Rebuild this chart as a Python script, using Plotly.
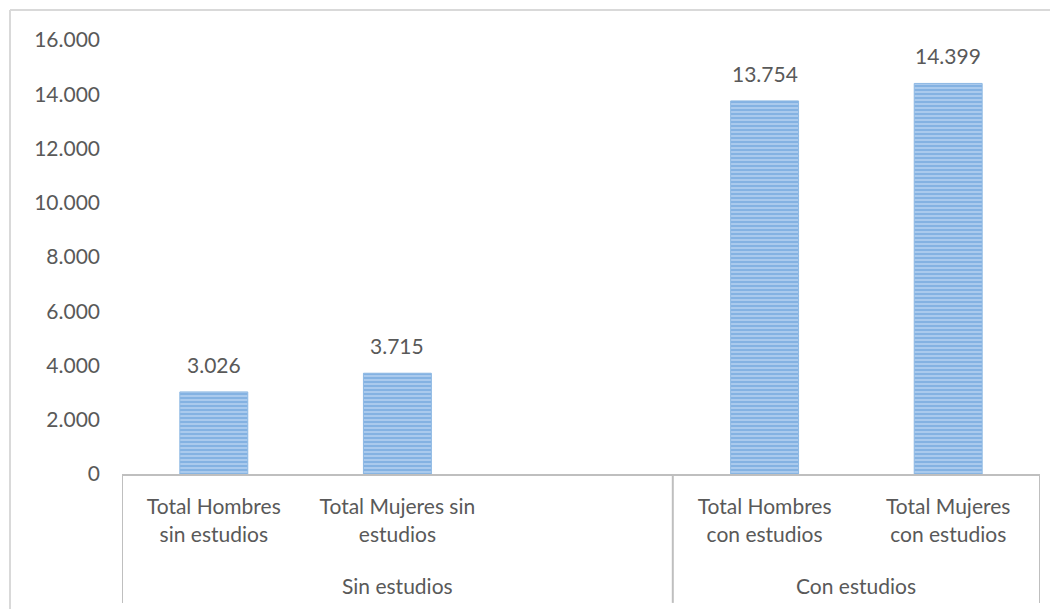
import plotly.graph_objs as go

categories = ['Total Hombres<br>sin estudios', 'Total Mujeres sin<br>estudios', '',
              'Total Hombres<br>con estudios', 'Total Mujeres<br>con estudios']
values = [3026, 3715, None, 13754, 14399]
groups = ['Sin estudios', 'Con estudios']
group_spans = [(0, 2), (3, 4)]
y_ticks = [0, 2000, 4000, 6000, 8000, 10000, 12000, 14000, 16000]

txt_color = '#595959'
line_color = '#bfbfbf'
font_name = 'Lato, sans-serif'

x_pos = list(range(len(categories)))

bars = go.Bar(x=x_pos, y=values, width=0.37,
              marker=dict(color='#9dc3e6',
                          line=dict(color='#8db8e3', width=1),
                          pattern=dict(shape='-', fgcolor='#5594d6', bgcolor='#b3d0ef',
                                       size=4, solidity=0.6)),
              hoverinfo='y', showlegend=False)

fig = go.Figure(data=[bars])

# value labels above bars
for xi, v in zip(x_pos, values):
    if v is None:
        continue
    fig.add_annotation(x=xi, y=v, xref='x', yref='y', text=f'{v:,}'.replace(',', '.'),
                       showarrow=False, yanchor='bottom', yshift=13,
                       font=dict(size=21, color=txt_color, family=font_name))

# group labels and dividers under the axis
for name, (a, b) in zip(groups, group_spans):
    fig.add_annotation(x=(a + b) / 2, y=-0.256, xref='x', yref='paper', text=name,
                       showarrow=False, yanchor='middle',
                       font=dict(size=21, color=txt_color, family=font_name))
for xd in [-0.5, 2.5, 4.5]:
    fig.add_shape(type='line', xref='x', yref='paper', x0=xd, x1=xd, y0=0, y1=-0.297,
                  line=dict(color=line_color, width=2))

# chart frame (left and top edges)
fig.add_shape(type='line', xref='paper', yref='paper', x0=-0.122, x1=-0.122, y0=1.069, y1=-0.4,
              line=dict(color='#d9d9d9', width=2))
fig.add_shape(type='line', xref='paper', yref='paper', x0=-0.122, x1=1.1, y0=1.069, y1=1.069,
              line=dict(color='#d9d9d9', width=2))

fig.update_layout(width=1050, height=601,
                  margin=dict(l=114, r=18, t=32, b=135),
                  separators=',.',
                  font=dict(family=font_name, size=21, color=txt_color),
                  paper_bgcolor='white', plot_bgcolor='white',
                  xaxis=dict(tickvals=x_pos, ticktext=categories, range=[-0.5, 4.5],
                             showline=True, linecolor=line_color, linewidth=2,
                             showgrid=False, zeroline=False, ticks='',
                             ticklabelstandoff=13,
                             tickfont=dict(size=21, color=txt_color)),
                  yaxis=dict(range=[0, 16000], tickvals=y_ticks, tickformat=',d',
                             showgrid=False, zeroline=False, showline=False, ticks='',
                             ticklabelstandoff=21,
                             tickfont=dict(size=21, color=txt_color)))

fig.write_html('out.html')
